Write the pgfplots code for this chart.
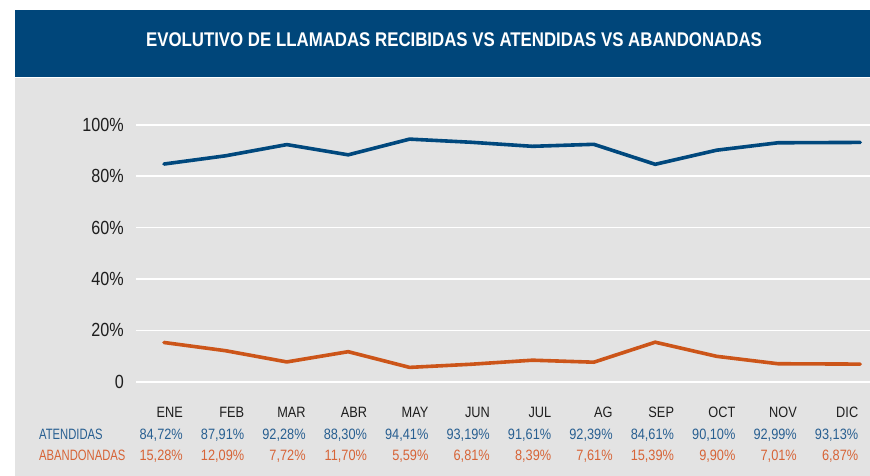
\documentclass[border=0pt]{standalone}
\usepackage{fontspec}
\setmainfont{Liberation Sans}[FakeStretch=0.85]
\newfontfamily\narrow{Liberation Sans}[FakeStretch=0.75]
\usepackage{pgfplots}
\pgfplotsset{compat=1.18}

\definecolor{banner}{RGB}{0,70,122}
\definecolor{panel}{RGB}{227,227,227}
\definecolor{atline}{RGB}{0,72,125}
\definecolor{abline}{RGB}{204,85,25}
\definecolor{attext}{RGB}{40,95,145}
\definecolor{abtext}{RGB}{215,100,55}
\definecolor{ink}{RGB}{30,30,30}

% one column of the table under the chart: month, atendidas, abandonadas
\newcommand{\lab}[3]{\begin{tabular}[t]{@{}r@{}}#1\\\textcolor{attext}{#2\%}\\\textcolor{abtext}{#3\%}\end{tabular}}

\begin{document}
\begin{tikzpicture}[x=1pt,y=1pt]
\useasboundingbox (0,0) rectangle (870,476);
\fill[white] (0,0) rectangle (870,476);
\fill[panel] (15,0) rectangle (870,398);
\fill[banner] (15,399) rectangle (870,466);
\node[text=white, font=\bfseries\fontsize{19.8}{22}\selectfont] at (454,436)
  {EVOLUTIVO DE LLAMADAS RECIBIDAS VS ATENDIDAS VS ABANDONADAS};

\begin{axis}[
  at={(136pt,58pt)}, anchor=south west,
  x=61.4pt, y=2.57pt,
  xmin=-0.456, xmax=11.5, ymin=-14.1, ymax=105,
  axis line style={draw=none},
  major tick length=0pt,
  ymajorgrids, grid style={white, line width=1.5pt},
  ytick={0,20,...,100},
  yticklabels={0,20\%,40\%,60\%,80\%,100\%},
  yticklabel style={font=\fontsize{19}{21}\selectfont, text=ink, anchor=east, inner sep=0pt, xshift=-12pt},
  xtick={0,...,11},
  xticklabels={{\lab{ENE}{84,72}{15,28}},{\lab{FEB}{87,91}{12,09}},{\lab{MAR}{92,28}{7,72}},
    {\lab{ABR}{88,30}{11,70}},{\lab{MAY}{94,41}{5,59}},{\lab{JUN}{93,19}{6,81}},
    {\lab{JUL}{91,61}{8,39}},{\lab{AG}{92,39}{7,61}},{\lab{SEP}{84,61}{15,39}},
    {\lab{OCT}{90,10}{9,90}},{\lab{NOV}{92,99}{7,01}},{\lab{DIC}{93,13}{6,87}}},
  xticklabel style={font=\fontsize{15}{21.5}\selectfont, text=ink, anchor=base east, inner sep=0pt, xshift=19pt},
]
\addplot[atline, line width=3.6pt, line join=round, line cap=round] coordinates {
  (0,84.72)(1,87.91)(2,92.28)(3,88.30)(4,94.41)(5,93.19)
  (6,91.61)(7,92.39)(8,84.61)(9,90.10)(10,92.99)(11.34,93.13)};
\addplot[abline, line width=3.6pt, line join=round, line cap=round] coordinates {
  (0,15.28)(1,12.09)(2,7.72)(3,11.70)(4,5.59)(5,6.81)
  (6,8.39)(7,7.61)(8,15.39)(9,9.90)(10,7.01)(11.34,6.87)};
\end{axis}

\node[anchor=base west, inner sep=0pt, text=attext, font=\narrow\fontsize{15}{17}\selectfont] at (39,36) {ATENDIDAS};
\node[anchor=base west, inner sep=0pt, text=abtext, font=\narrow\fontsize{15}{17}\selectfont] at (39,15) {ABANDONADAS};
\end{tikzpicture}
\end{document}
